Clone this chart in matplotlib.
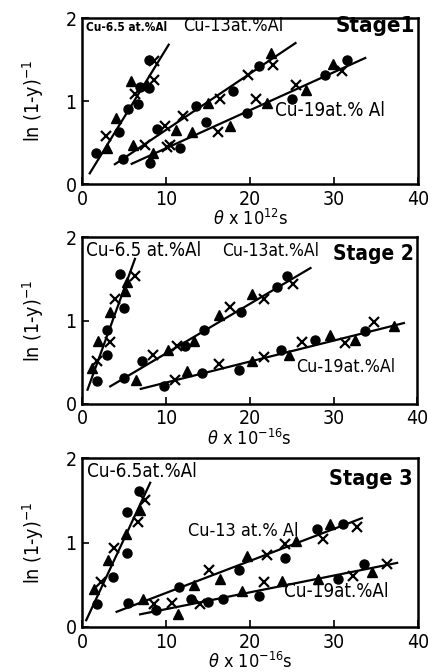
import matplotlib.pyplot as plt

plt.rcParams['font.family'] = ['DejaVu Sans']
plt.rcParams['font.stretch'] = 'condensed'

# ---- stage 1 (theta x 10^12 s) ----
s1_a_circ_x = [1.7, 4.4, 5.4, 6.6, 6.9, 8.0, 7.9]
s1_a_circ_y = [0.37, 0.63, 0.90, 0.97, 1.17, 1.50, 1.16]
s1_a_tri_x = [2.9, 4.05, 5.8, 7.7]
s1_a_tri_y = [0.43, 0.80, 1.24, 1.20]
s1_a_x_x = [2.86, 6.3, 8.6, 8.6]
s1_a_x_y = [0.58, 1.08, 1.48, 1.26]
s1_a_line = ([0.9, 10.3], [0.13, 1.68])

s1_b_circ_x = [4.9, 8.9, 13.5, 18.0, 21.0]
s1_b_circ_y = [0.30, 0.66, 0.94, 1.12, 1.42]
s1_b_tri_x = [6.1, 11.2, 15.0, 22.5]
s1_b_tri_y = [0.47, 0.65, 0.98, 1.58]
s1_b_x_x = [7.5, 9.9, 12.0, 16.4, 19.8, 22.7]
s1_b_x_y = [0.47, 0.70, 0.82, 1.02, 1.32, 1.44]
s1_b_line = ([3.9, 25.4], [0.24, 1.70])

s1_c_circ_x = [8.1, 11.7, 14.8, 19.6, 25.0, 28.9, 31.5]
s1_c_circ_y = [0.26, 0.44, 0.75, 0.86, 1.03, 1.32, 1.49]
s1_c_tri_x = [8.4, 13.1, 17.6, 22.0, 26.7, 29.9]
s1_c_tri_y = [0.38, 0.63, 0.70, 0.98, 1.14, 1.45]
s1_c_x_x = [10.1, 10.5, 16.2, 20.7, 25.4, 30.9]
s1_c_x_y = [0.45, 0.47, 0.63, 1.02, 1.20, 1.36]
s1_c_line = ([5.9, 33.7], [0.245, 1.52])

# ---- stage 2 (theta x 10^-16 s) ----
s2_a_circ_x = [1.75, 2.95, 3.0, 5.0, 4.5]
s2_a_circ_y = [0.28, 0.59, 0.89, 1.15, 1.56]
s2_a_tri_x = [1.16, 1.83, 3.27, 5.1, 5.3]
s2_a_tri_y = [0.43, 0.75, 1.10, 1.36, 1.46]
s2_a_x_x = [1.75, 3.35, 3.94, 6.3]
s2_a_x_y = [0.51, 0.74, 1.26, 1.54]
s2_a_line = ([0.64, 6.3], [0.17, 1.74])

s2_b_circ_x = [5.0, 7.1, 12.3, 14.5, 18.9, 23.2, 24.5]
s2_b_circ_y = [0.31, 0.51, 0.69, 0.89, 1.10, 1.40, 1.54]
s2_b_tri_x = [6.45, 10.3, 13.3, 16.3, 20.3]
s2_b_tri_y = [0.29, 0.65, 0.75, 1.07, 1.32]
s2_b_x_x = [8.5, 11.3, 17.7, 21.7, 25.2]
s2_b_x_y = [0.59, 0.70, 1.16, 1.26, 1.44]
s2_b_line = ([3.35, 27.25], [0.21, 1.63])

s2_c_circ_x = [9.8, 14.3, 18.7, 23.7, 27.8, 33.8]
s2_c_circ_y = [0.22, 0.37, 0.41, 0.65, 0.77, 0.87]
s2_c_tri_x = [12.5, 20.3, 24.7, 29.6, 32.6, 37.2]
s2_c_tri_y = [0.40, 0.51, 0.59, 0.83, 0.77, 0.94]
s2_c_x_x = [11.1, 16.3, 21.7, 26.2, 31.4, 34.8]
s2_c_x_y = [0.29, 0.48, 0.56, 0.74, 0.73, 0.98]
s2_c_line = ([7.0, 38.4], [0.18, 0.97])

# ---- stage 3 (theta x 10^-16 s) ----
s3_a_circ_x = [1.8, 3.65, 5.3, 5.3, 6.8]
s3_a_circ_y = [0.27, 0.59, 0.88, 1.36, 1.61]
s3_a_tri_x = [1.43, 3.1, 5.2, 6.9]
s3_a_tri_y = [0.45, 0.80, 1.10, 1.39]
s3_a_x_x = [2.3, 3.8, 6.6, 7.5]
s3_a_x_y = [0.53, 0.94, 1.24, 1.51]
s3_a_line = ([0.48, 8.1], [0.08, 1.71])

s3_b_circ_x = [5.4, 11.5, 18.7, 24.2, 27.9, 31.1]
s3_b_circ_y = [0.29, 0.47, 0.67, 0.82, 1.16, 1.22]
s3_b_tri_x = [7.3, 13.3, 16.4, 19.6, 25.4, 29.5]
s3_b_tri_y = [0.33, 0.50, 0.57, 0.84, 1.02, 1.22]
s3_b_x_x = [8.5, 15.1, 22.0, 24.2, 28.7, 32.7]
s3_b_x_y = [0.27, 0.67, 0.85, 0.98, 1.04, 1.19]
s3_b_line = ([4.1, 33.3], [0.18, 1.29])

s3_c_circ_x = [8.8, 12.9, 15.0, 16.8, 21.0, 30.4, 33.5]
s3_c_circ_y = [0.20, 0.33, 0.30, 0.33, 0.37, 0.57, 0.75]
s3_c_tri_x = [11.35, 19.0, 23.8, 28.1, 34.5]
s3_c_tri_y = [0.15, 0.43, 0.55, 0.57, 0.65]
s3_c_x_x = [10.7, 14.0, 21.6, 32.3, 36.3]
s3_c_x_y = [0.29, 0.27, 0.53, 0.61, 0.75]
s3_c_line = ([6.9, 37.5], [0.15, 0.76])

x_ticks = [0, 10, 20, 30, 40]
y_ticks = [0, 1, 2]
y_label = r'ln (1-y)$^{-1}$'
x_labels = [r'$\theta$ x 10$^{12}$s', r'$\theta$ x 10$^{-16}$s', r'$\theta$ x 10$^{-16}$s']


def draw_series(ax, cx, cy, tx, ty, xx, xy, line):
    ax.plot(line[0], line[1], color='black', lw=1.6)
    ax.plot(cx, cy, 'o', color='black', ms=6.5)
    ax.plot(tx, ty, '^', color='black', ms=6.5)
    ax.plot(xx, xy, 'x', color='black', ms=6.5, mew=1.6)


fig = plt.figure(figsize=(4.28, 6.72), dpi=100)
rects = [[0.192, 0.726, 0.785, 0.247],
         [0.192, 0.399, 0.783, 0.248],
         [0.192, 0.067, 0.785, 0.251]]
axes = [fig.add_axes(r) for r in rects]

draw_series(axes[0], s1_a_circ_x, s1_a_circ_y, s1_a_tri_x, s1_a_tri_y, s1_a_x_x, s1_a_x_y, s1_a_line)
draw_series(axes[0], s1_b_circ_x, s1_b_circ_y, s1_b_tri_x, s1_b_tri_y, s1_b_x_x, s1_b_x_y, s1_b_line)
draw_series(axes[0], s1_c_circ_x, s1_c_circ_y, s1_c_tri_x, s1_c_tri_y, s1_c_x_x, s1_c_x_y, s1_c_line)
draw_series(axes[1], s2_a_circ_x, s2_a_circ_y, s2_a_tri_x, s2_a_tri_y, s2_a_x_x, s2_a_x_y, s2_a_line)
draw_series(axes[1], s2_b_circ_x, s2_b_circ_y, s2_b_tri_x, s2_b_tri_y, s2_b_x_x, s2_b_x_y, s2_b_line)
draw_series(axes[1], s2_c_circ_x, s2_c_circ_y, s2_c_tri_x, s2_c_tri_y, s2_c_x_x, s2_c_x_y, s2_c_line)
draw_series(axes[2], s3_a_circ_x, s3_a_circ_y, s3_a_tri_x, s3_a_tri_y, s3_a_x_x, s3_a_x_y, s3_a_line)
draw_series(axes[2], s3_b_circ_x, s3_b_circ_y, s3_b_tri_x, s3_b_tri_y, s3_b_x_x, s3_b_x_y, s3_b_line)
draw_series(axes[2], s3_c_circ_x, s3_c_circ_y, s3_c_tri_x, s3_c_tri_y, s3_c_x_x, s3_c_x_y, s3_c_line)

for ax, xl in zip(axes, x_labels):
    ax.set_xlim(0, 40)
    ax.set_ylim(0, 2)
    ax.set_xticks(x_ticks)
    ax.set_yticks(y_ticks)
    ax.tick_params(direction='in', length=5, width=1.2, labelsize=14, pad=4)
    for s in ax.spines.values():
        s.set_linewidth(1.8)
    ax.set_xlabel(xl, fontsize=13, labelpad=0)
    ax.set_ylabel(y_label, fontsize=14, labelpad=14)

# labels stage 1
axes[0].text(0.4, 1.85, 'Cu-6.5 at.%Al', fontsize=8.5, weight='bold')
axes[0].text(12.0, 1.84, 'Cu-13at.%Al', fontsize=13)
axes[0].text(39.6, 1.83, 'Stage1', fontsize=16, weight='bold', ha='right')
axes[0].text(23.0, 0.82, 'Cu-19at.% Al', fontsize=13.5)

# labels stage 2
axes[1].text(0.4, 1.78, 'Cu-6.5 at.%Al', fontsize=13.5)
axes[1].text(16.7, 1.78, 'Cu-13at.%Al', fontsize=12.5)
axes[1].text(39.6, 1.73, 'Stage 2', fontsize=15, weight='bold', ha='right')
axes[1].text(25.5, 0.38, 'Cu-19at.%Al', fontsize=12.8)

# labels stage 3
axes[2].text(0.6, 1.78, 'Cu-6.5at.%Al', fontsize=13.5)
axes[2].text(39.3, 1.68, 'Stage 3', fontsize=15.5, weight='bold', ha='right')
axes[2].text(12.6, 1.08, 'Cu-13 at.% Al', fontsize=13)
axes[2].text(24.0, 0.36, 'Cu-19at.%Al', fontsize=13.5)

fig.savefig('out.png', dpi=100)
